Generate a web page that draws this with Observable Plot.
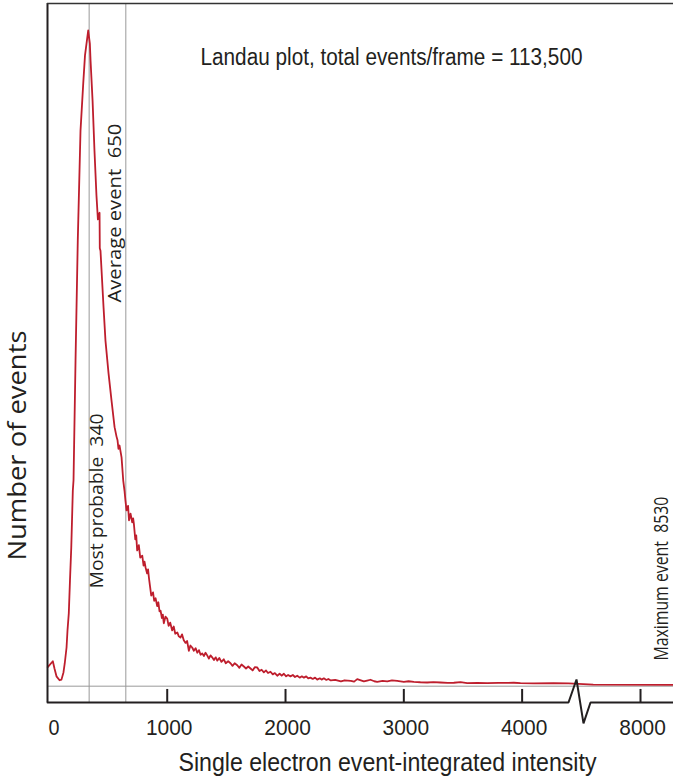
<!DOCTYPE html>
<html><head><meta charset="utf-8">
<script src="https://cdn.jsdelivr.net/npm/d3@7"></script>
<script src="https://cdn.jsdelivr.net/npm/@observablehq/plot@0.6"></script>
<style>
body{margin:0;background:#fff;}
#chart svg{display:block;}
svg text{white-space:pre;}
</style></head><body><div id="chart"></div>
<script>
// Single electron event-integrated intensity (x) vs number of events (relative, peak = 100)
const intensity = [
  -10, 33, 47, 64, 90, 106, 123, 134, 149, 157, 168, 178, 189, 202, 208, 225, 244, 267, 290, 305, 332,
  346, 352, 369, 385, 402, 414, 428, 430, 436, 462, 478, 504, 529, 555, 571, 580, 588, 597, 614, 628, 639, 647, 656, 669, 677,
  690, 704, 712, 718, 730, 738, 746, 760, 772, 789, 800, 808, 817, 830, 838, 845, 855, 865, 880, 890, 902, 915, 925, 935, 944,
  955, 963, 971, 985, 1000, 1012, 1025, 1042, 1055, 1068, 1085, 1098, 1112, 1125, 1140, 1155, 1168, 1183, 1196, 1211, 1225,
  1240, 1254, 1268, 1282, 1296, 1310, 1324, 1338, 1352, 1366, 1380, 1395, 1410, 1423, 1440, 1458, 1478, 1495, 1515, 1535,
  1552, 1570, 1592, 1610, 1628, 1648, 1666, 1685, 1704, 1722, 1740, 1761, 1780, 1798, 1817, 1835, 1852, 1873, 1892, 1910,
  1930, 1950, 1968, 1986, 2005, 2022, 2042, 2062, 2080, 2099, 2120, 2138, 2155, 2175, 2192, 2211, 2230, 2250, 2268, 2290,
  2305, 2324, 2345, 2362, 2383, 2420, 2468, 2500, 2552, 2580, 2606, 2662, 2690, 2718, 2750, 2775, 2820, 2860, 2900, 2944,
  3000, 3040, 3085, 3140, 3198, 3250, 3310, 3370, 3423, 3479, 3536, 3620, 3705, 3800, 3930, 3986, 4100, 4265, 4409, 7600, 8279
];
const counts = [
  2.9, 3.8, 2.7, 1.5, 0.9, 1.0, 2.1, 3.5, 5.9, 8.5, 11.1, 16.1, 21.2, 29.8, 31.4, 49.7, 68.0, 84.7, 91.9, 96.2, 100,
  98.0, 95.4, 89.3, 81.7, 74.8, 71.2, 72.2, 66.8, 66.4, 57.7, 52.7, 47.7, 43.6, 39.5, 38.1, 37.5, 36.2, 36.7, 34.9, 31.4, 29.8, 28.3, 26.8, 27.5, 25.3,
  26.3, 25.0, 25.6, 24.8, 22.4, 23.0, 20.7, 21.5, 19.6, 19.9, 18.4, 19.0, 18.1, 17.2, 17.8, 16.6, 15.2, 13.8, 14.3, 13.0, 13.4, 12.2, 12.8, 11.4, 11.5,
  10.4, 10.9, 9.6, 10.6, 10.3, 9.2, 9.7, 8.5, 9.1, 8.0, 8.2, 7.6, 7.4, 7.9, 7.0, 6.6, 6.9, 5.4, 6.2, 5.9, 5.4,
  5.8, 5.1, 5.5, 4.8, 5.0, 4.6, 5.1, 4.7, 4.2, 4.7, 4.4, 4.0, 4.4, 3.9, 4.3, 3.7, 4.1, 3.5, 3.8, 3.5,
  3.1, 3.5, 3.2, 2.8, 3.3, 3.0, 2.7, 3.0, 2.7, 2.4, 2.9, 2.85, 2.3, 2.5, 2.1, 2.4, 2.0, 2.2, 1.8, 2.0,
  1.6, 1.9, 1.6, 1.9, 1.5, 1.7, 1.5, 1.7, 1.4, 1.6, 1.3, 1.5, 1.3, 1.5, 1.2, 1.3, 1.1, 1.3, 1.0, 1.2,
  1.0, 1.2, 0.95, 1.1, 0.87, 0.95, 0.72, 0.9, 0.82, 0.7, 1.07, 0.72, 0.85, 0.98, 0.75, 0.67, 0.8, 0.72, 0.88, 0.82,
  0.67, 0.75, 0.67, 0.6, 0.56, 0.62, 0.56, 0.5, 0.52, 0.61, 0.46, 0.5, 0.46, 0.5, 0.52, 0.46, 0.44, 0.46, 0.42, 0.25, 0.2
];
const markers = [
  {value: 340, label: "Most probable  340"},
  {value: 650, label: "Average event  650"}
];
const maxEvent = {value: 8530, label: "Maximum event  8530"};
const xTicks = [1000, 2000, 3000, 4000, 8000];
const xTickLabels = [0, 1000, 2000, 3000, 4000, 8000];
const title = "Landau plot, total events/frame = 113,500";
const xLabel = "Single electron event-integrated intensity";
const yLabel = "Number of events";

// broken x axis: piecewise linear scale
const xDomain = [-12, 4392, 7577, 8279];
const xRange = [47, 568, 590, 673];
const yDomain = [-2.49, 104.12];
// axis line with the break zigzag (data units)
const axisBreakX = [-12, 4392, 5550, 6563, 7577, 8279];
const axisBreakY = [-2.49, -2.49, 1.02, -5.67, -2.49, -2.49];

const data = intensity.map((x, i) => ({x, y: counts[i]}));
const axisLine = axisBreakX.map((x, i) => ({x, y: axisBreakY[i]}));

const narrow = "'Liberation Sans', Arial, sans-serif";
const humanist = "'Open Sans', 'Noto Sans', sans-serif";
const ink = "#231f20";

const chart = Plot.plot({
  width: 673, height: 776,
  marginTop: 3, marginLeft: 47, marginRight: 0, marginBottom: 74,
  x: {type: "linear", domain: xDomain, range: xRange, axis: null},
  y: {domain: yDomain, axis: null},
  style: {background: "#fff", color: ink},
  marks: [
    Plot.ruleY([0], {stroke: "#999", strokeWidth: 1}),
    Plot.ruleX(markers, {x: "value", stroke: "#999", strokeWidth: 1}),
    Plot.line(data, {x: "x", y: "y", stroke: "#be1e2d", strokeWidth: 1.8, strokeLinejoin: "round"}),
    Plot.ruleX([xDomain[0]], {stroke: ink, strokeWidth: 2}),
    Plot.ruleY([yDomain[1]], {stroke: "#333", strokeWidth: 1.6}),
    Plot.line(axisLine, {x: "x", y: "y", stroke: ink, strokeWidth: 2, strokeLinejoin: "miter"}),
    Plot.ruleX(xTicks, {y1: yDomain[0], y2: -0.5, stroke: ink, strokeWidth: 2}),
    Plot.text(xTickLabels.slice(0, 1), {x: d => d, text: d => String(d), frameAnchor: "bottom", dy: 25, dx: 5, lineAnchor: "middle", fontSize: 22.5, fontFamily: narrow, fill: ink}),
    Plot.text(xTickLabels.slice(1), {x: d => d, text: d => String(d), frameAnchor: "bottom", dy: 25, dx: 2, lineAnchor: "middle", fontSize: 22.5, fontFamily: narrow, fill: ink}),
    Plot.text([title], {frameAnchor: "top", text: d => d, dx: 31, dy: 54, lineAnchor: "middle", fontSize: 23.5, fontFamily: narrow, fill: ink}),
    Plot.text([xLabel], {frameAnchor: "bottom", text: d => d, dx: 27, dy: 60, lineAnchor: "middle", fontSize: 25, fontFamily: narrow, fill: ink}),
    Plot.text([yLabel], {frameAnchor: "left", y: () => 36.7, text: d => d, rotate: -90, dx: -30, textAnchor: "middle", lineAnchor: "middle", fontSize: 25, fontFamily: humanist, fill: ink}),
    Plot.text([markers[0]], {x: "value", y: () => 14.9, text: "label", rotate: -90, textAnchor: "start", lineAnchor: "bottom", dx: 13.5, fontSize: 19, fontFamily: humanist, fill: ink}),
    Plot.text([markers[1]], {x: "value", y: () => 58.5, text: "label", rotate: -90, textAnchor: "start", lineAnchor: "bottom", dx: -5, fontSize: 19, fontFamily: humanist, fill: ink}),
    Plot.text([maxEvent], {x: () => 8230, y: () => 3.9, text: "label", rotate: -90, textAnchor: "start", lineAnchor: "bottom", fontSize: 20, fontFamily: humanist, fill: ink})
  ]
});

// condensed lettering of the original: fit text lengths
const fitLengths = new Map([
  [title, 382], [xLabel, 418], [yLabel, 230],
  [markers[0].label, 175], [markers[1].label, 179], [maxEvent.label, 164],
  ["0", 11], ["1000", 46.5], ["2000", 46.5], ["3000", 46.5], ["4000", 46.5], ["8000", 46.5]
]);
d3.select(chart).selectAll("text").each(function() {
  const len = fitLengths.get(this.textContent);
  if (len) {
    this.setAttribute("textLength", len);
    this.setAttribute("lengthAdjust", "spacingAndGlyphs");
  }
});
document.getElementById("chart").appendChild(chart);
</script>
</body></html>
